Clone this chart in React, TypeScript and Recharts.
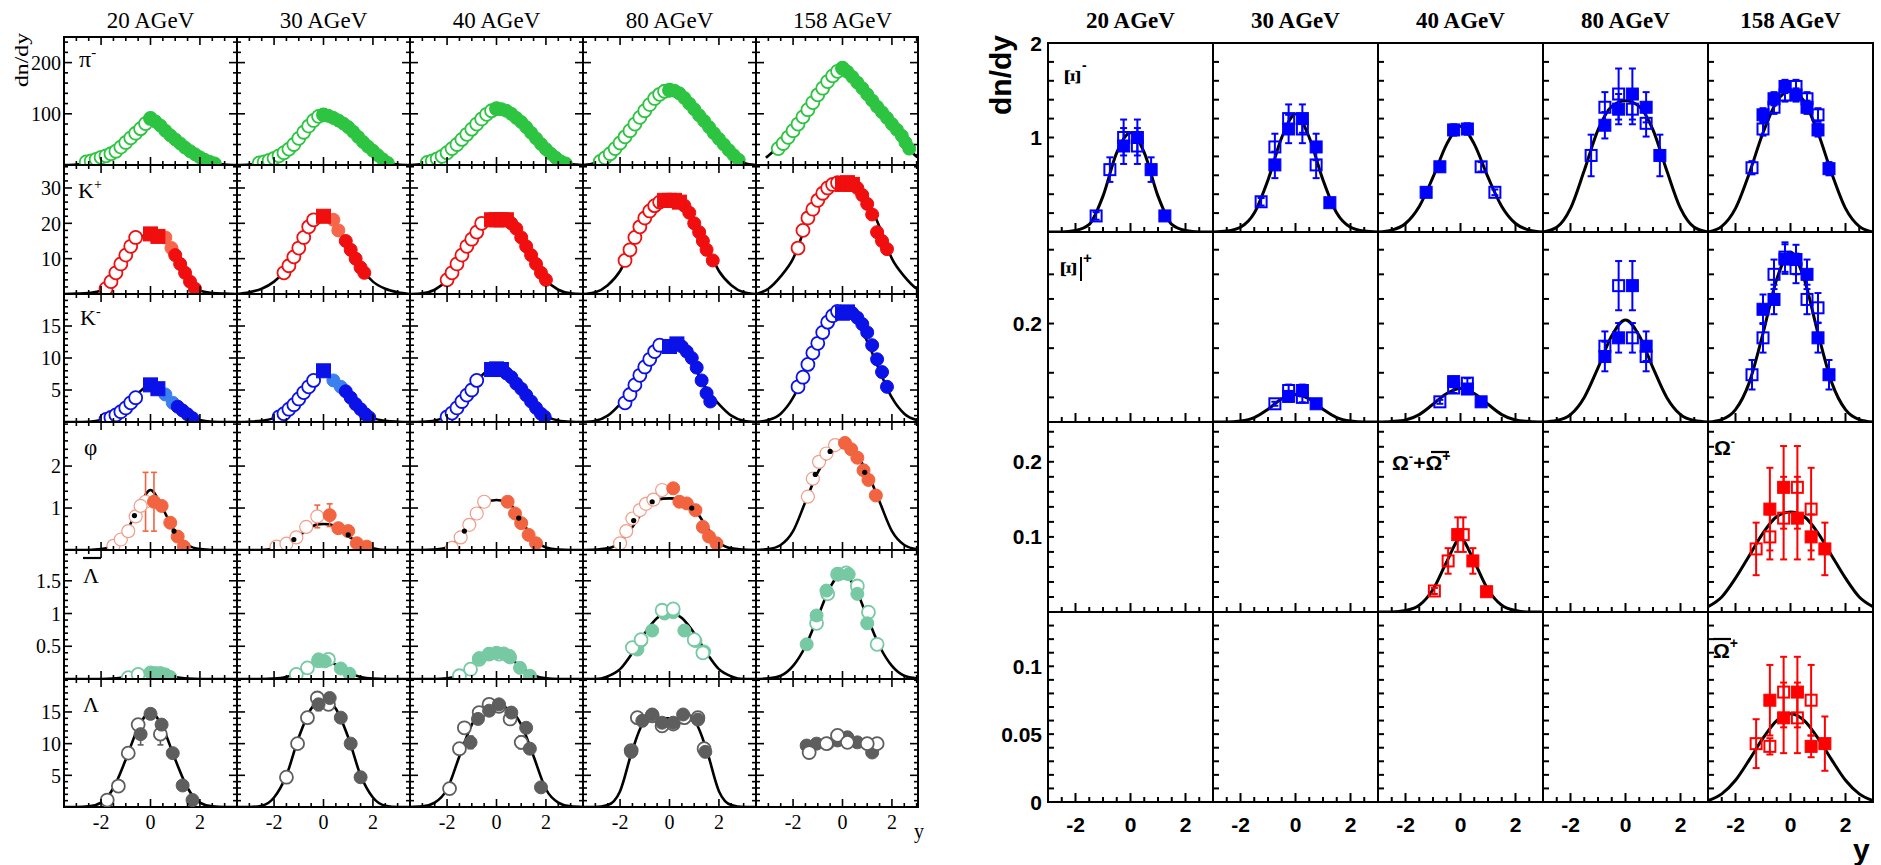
import React from 'react';
import { ComposedChart, Scatter, Line, XAxis, YAxis, ReferenceArea, ErrorBar } from 'recharts';

type Pt = number[];

const SERIF = '"Liberation Serif", "Times New Roman", serif';
const SANS = '"Liberation Sans", Arial, Helvetica, sans-serif';

const ENERGIES = ['20 AGeV', '30 AGeV', '40 AGeV', '80 AGeV', '158 AGeV'];

// ---------- left block: pi-, K+, K-, phi, anti-Lambda, Lambda ----------
const PI20_O = [[-2.6, 6], [-2.4, 8], [-2.2, 11], [-2, 15], [-1.8, 18], [-1.6, 22], [-1.4, 27], [-1.2, 35], [-1, 44], [-0.8, 53], [-0.6, 62], [-0.4, 71], [-0.2, 81], [0, 91]];
const PI20_F = [[0, 91], [0.2, 85], [0.4, 77], [0.6, 67], [0.8, 58], [1, 50], [1.2, 42], [1.4, 34], [1.6, 27], [1.8, 21], [2, 15], [2.2, 10], [2.4, 6], [2.6, 3]];
const PI20_C = [[-3.5, 0], [-3, 1], [-2.5, 6], [-2, 15], [-1.5, 30], [-1, 47], [-0.5, 72], [0, 91], [0.5, 72], [1, 50], [1.5, 30], [2, 15], [2.5, 5], [3, 1], [3.5, 0]];

const PI30_O = [[-2.6, 4], [-2.4, 6], [-2.2, 9], [-2, 13], [-1.8, 18], [-1.6, 24], [-1.4, 31], [-1.2, 40], [-1, 52], [-0.8, 64], [-0.6, 76], [-0.4, 87], [-0.2, 95], [0, 98]];
const PI30_F = [[0, 98], [0.2, 96], [0.4, 92], [0.6, 87], [0.8, 81], [1, 74], [1.2, 65], [1.4, 55], [1.6, 45], [1.8, 36], [2, 28], [2.2, 19], [2.4, 11], [2.6, 4]];
const PI30_C = [[-3.5, 0], [-3, 1], [-2.5, 6], [-2, 18], [-1.5, 38], [-1, 62], [-0.5, 87], [0, 98], [0.5, 89], [1, 70], [1.5, 47], [2, 24], [2.5, 6], [3, 1], [3.5, 0]];

const PI40_O = [[-2.8, 5], [-2.6, 8], [-2.4, 12], [-2.2, 17], [-2, 24], [-1.8, 32], [-1.6, 40], [-1.4, 50], [-1.2, 60], [-1, 70], [-0.8, 80], [-0.6, 90], [-0.4, 99], [-0.2, 106], [0, 110]];
const PI40_F = [[0, 110], [0.2, 109], [0.4, 106], [0.6, 100], [0.8, 92], [1, 84], [1.2, 74], [1.4, 63], [1.6, 52], [1.8, 41], [2, 31], [2.2, 22], [2.4, 14], [2.6, 7], [2.8, 3]];
const PI40_C = [[-3.5, 0], [-3, 2], [-2.5, 10], [-2, 26], [-1.5, 47], [-1, 72], [-0.5, 96], [0, 110], [0.5, 103], [1, 84], [1.5, 57], [2, 31], [2.5, 10], [3, 2], [3.5, 0]];

const PI80_O = [[-2.8, 7], [-2.6, 14], [-2.4, 22], [-2.2, 32], [-2, 43], [-1.8, 55], [-1.6, 67], [-1.4, 80], [-1.2, 93], [-1, 106], [-0.8, 118], [-0.6, 130], [-0.4, 138], [-0.2, 144], [0, 146]];
const PI80_F = [[0, 146], [0.2, 145], [0.4, 140], [0.6, 131], [0.8, 120], [1, 109], [1.2, 97], [1.4, 86], [1.6, 74], [1.8, 62], [2, 51], [2.2, 40], [2.4, 29], [2.6, 19], [2.8, 10]];
const PI80_C = [[-3.5, 0], [-3, 4], [-2.5, 18], [-2, 45], [-1.5, 76], [-1, 106], [-0.5, 135], [0, 146], [0.5, 136], [1, 109], [1.5, 80], [2, 51], [2.5, 24], [3, 4], [3.5, 0]];

const PI158_O = [[-2.6, 32], [-2.4, 42], [-2.2, 54], [-2, 67], [-1.8, 80], [-1.6, 94], [-1.4, 108], [-1.2, 122], [-1, 137], [-0.8, 150], [-0.6, 163], [-0.4, 174], [-0.2, 183], [0, 189]];
const PI158_F = [[0, 189], [0.2, 182], [0.4, 172], [0.6, 161], [0.8, 150], [1, 138], [1.2, 126], [1.4, 114], [1.6, 103], [1.8, 92], [2, 80], [2.2, 69], [2.4, 57], [2.55, 44], [2.7, 32]];
const PI158_C = [[-3.1, 14], [-3, 18], [-2.5, 40], [-2, 67], [-1.5, 101], [-1, 137], [-0.5, 170], [0, 189], [0.5, 167], [1, 138], [1.5, 108], [2, 80], [2.5, 48], [3, 16], [3.1, 13]];

const KP20_O = [[-1.8, 1.5], [-1.6, 3.5], [-1.4, 6], [-1.2, 8.5], [-1, 11], [-0.8, 13.5], [-0.6, 16]];
const KP20_S = [[0, 17], [0.3, 16.3]];
const KP20_L = [[0.6, 16], [0.85, 13]];
const KP20_F = [[1, 11], [1.2, 8.5], [1.4, 6], [1.6, 3.5], [1.8, 1.5]];
const KP20_C = [[-3.5, 0], [-3, 0.1], [-2.5, 0.3], [-2, 0.9], [-1.5, 4.5], [-1, 11], [-0.5, 15.5], [0, 17], [0.5, 15.5], [1, 11], [1.5, 4.5], [2, 0.9], [2.5, 0.3], [3, 0.1], [3.5, 0]];

const KP30_O = [[-1.6, 6], [-1.4, 8], [-1.2, 10.5], [-1, 13], [-0.8, 16], [-0.6, 19], [-0.4, 21]];
const KP30_S = [[0, 22]];
const KP30_L = [[0.4, 21], [0.6, 18]];
const KP30_F = [[0.9, 15], [1.1, 12.5], [1.3, 10], [1.5, 7.5], [1.65, 6]];
const KP30_C = [[-3.5, 0], [-3, 0.5], [-2.5, 1.5], [-2, 3.5], [-1.5, 7], [-1, 13], [-0.5, 19.5], [0, 22], [0.5, 19.5], [1, 13.5], [1.5, 7.5], [2, 3.5], [2.5, 1.5], [3, 0.5], [3.5, 0]];

const KP40_O = [[-2, 4], [-1.8, 6], [-1.6, 8.5], [-1.4, 11], [-1.2, 13.5], [-1, 15.5], [-0.8, 17.5], [-0.6, 20]];
const KP40_S = [[-0.2, 21], [0, 21], [0.2, 21], [0.4, 21]];
const KP40_F = [[0.6, 20], [0.8, 18.5], [1, 16], [1.2, 13.5], [1.4, 11], [1.6, 8.5], [1.8, 6], [2, 4]];
const KP40_C = [[-3.5, 0], [-3, 0.2], [-2.5, 1.2], [-2, 4], [-1.5, 9.5], [-1, 15.5], [-0.5, 20], [0, 21], [0.5, 20], [1, 15.5], [1.5, 9.5], [2, 4], [2.5, 1.2], [3, 0.2], [3.5, 0]];

const KP80_O = [[-1.8, 9.5], [-1.6, 12.5], [-1.4, 16], [-1.2, 19], [-1, 21.5], [-0.8, 23.5], [-0.6, 25], [-0.4, 26]];
const KP80_S = [[-0.2, 26.5], [0, 26.5], [0.2, 26.5], [0.4, 26]];
const KP80_F = [[0.6, 25], [0.8, 23], [1, 20], [1.2, 17.5], [1.35, 15], [1.5, 12.5], [1.75, 9.5]];
const KP80_C = [[-3.5, 0], [-3, 0.5], [-2.5, 2.5], [-2, 6.5], [-1.5, 14], [-1, 21], [-0.5, 25.5], [0, 26.5], [0.5, 25.5], [1, 21], [1.5, 14], [2, 6.5], [2.5, 2.5], [3, 0.5], [3.5, 0]];

const KP158_O = [[-1.8, 13], [-1.6, 18], [-1.4, 21.5], [-1.2, 24], [-1, 26.5], [-0.8, 28.5], [-0.6, 30], [-0.4, 31], [-0.2, 31.5]];
const KP158_S = [[0, 31], [0.2, 31.5], [0.4, 31]];
const KP158_F = [[0.6, 30], [0.8, 28], [1, 25.5], [1.2, 22.5], [1.4, 17.5], [1.6, 15], [1.8, 12.7]];
const KP158_C = [[-3.5, 0], [-3, 1.5], [-2.5, 5], [-2, 10], [-1.5, 19], [-1, 26.5], [-0.5, 30.5], [0, 31.5], [0.5, 30.5], [1, 26.5], [1.5, 19], [2, 10], [2.5, 5], [3, 1.5], [3.5, 0]];

const KM20_O = [[-1.8, 0.4], [-1.6, 0.7], [-1.4, 1.1], [-1.2, 1.6], [-1, 2.2], [-0.8, 3], [-0.6, 3.8]];
const KM20_S = [[0, 5.8], [0.3, 5.2]];
const KM20_L = [[0.6, 4.3], [0.9, 3]];
const KM20_F = [[1.1, 2.4], [1.3, 1.8], [1.5, 1.2], [1.7, 0.6]];
const KM20_C = [[-3.5, 0], [-3, 0], [-2.5, 0.05], [-2, 0.3], [-1.5, 1], [-1, 2.4], [-0.5, 4.5], [0, 5.8], [0.5, 4.6], [1, 2.7], [1.5, 1.1], [2, 0.3], [2.5, 0.05], [3, 0], [3.5, 0]];

const KM30_O = [[-1.8, 0.8], [-1.6, 1.3], [-1.4, 2], [-1.2, 2.7], [-1, 3.6], [-0.8, 4.6], [-0.6, 5.5], [-0.4, 6.5]];
const KM30_S = [[0, 8]];
const KM30_L = [[0.4, 6.5], [0.7, 5.5]];
const KM30_F = [[0.9, 4.8], [1.1, 3.8], [1.3, 2.8], [1.5, 2], [1.7, 1.2], [1.85, 0.7]];
const KM30_C = [[-3.5, 0], [-3, 0.05], [-2.5, 0.2], [-2, 0.6], [-1.5, 1.7], [-1, 3.6], [-0.5, 6.2], [0, 8], [0.5, 6.2], [1, 4.2], [1.5, 2], [2, 0.6], [2.5, 0.2], [3, 0.05], [3.5, 0]];

const KM40_O = [[-2, 0.8], [-1.8, 1.4], [-1.6, 2.2], [-1.4, 3.2], [-1.2, 4.2], [-1, 5], [-0.8, 6.5]];
const KM40_S = [[-0.2, 8.2], [0, 8.3], [0.2, 8.2]];
const KM40_F = [[0.4, 7.6], [0.6, 7], [0.8, 6], [1, 5.2], [1.2, 4.2], [1.4, 3.2], [1.6, 2.2], [1.8, 1.3], [1.95, 0.8]];
const KM40_C = [[-3.5, 0], [-3, 0.05], [-2.5, 0.25], [-2, 0.9], [-1.5, 2.7], [-1, 5.2], [-0.5, 7.6], [0, 8.3], [0.5, 7.6], [1, 5.2], [1.5, 2.7], [2, 0.9], [2.5, 0.25], [3, 0.05], [3.5, 0]];

const KM80_O = [[-1.8, 3], [-1.6, 4.3], [-1.4, 5.8], [-1.2, 7.3], [-1, 8.6], [-0.8, 9.8], [-0.6, 11], [-0.4, 12]];
const KM80_S = [[0, 11.8], [0.3, 12.2]];
const KM80_F = [[0.5, 11.8], [0.7, 11], [0.9, 10], [1.1, 8.5], [1.3, 6.5], [1.5, 4.5], [1.65, 3.2]];
const KM80_C = [[-3.5, 0], [-3, 0.2], [-2.5, 1], [-2, 2.8], [-1.5, 5.2], [-1, 8.6], [-0.5, 11.3], [0, 12], [0.5, 11.3], [1, 8.6], [1.5, 5.2], [2, 2.8], [2.5, 1], [3, 0.2], [3.5, 0]];

const KM158_O = [[-1.8, 5.5], [-1.6, 7], [-1.4, 9], [-1.2, 10.8], [-1, 12.3], [-0.8, 14], [-0.6, 15.6], [-0.4, 16.6], [-0.2, 17.3]];
const KM158_S = [[0, 17], [0.2, 17.2]];
const KM158_F = [[0.4, 17], [0.6, 16.3], [0.8, 15.3], [1, 14], [1.2, 12], [1.4, 9.8], [1.6, 7.8], [1.8, 5.5]];
const KM158_C = [[-3.5, 0], [-3, 0.3], [-2.5, 1.3], [-2, 3.8], [-1.5, 8], [-1, 12.6], [-0.5, 16.2], [0, 17.3], [0.5, 16.2], [1, 12.6], [1.5, 8], [2, 3.8], [2.5, 1.3], [3, 0.3], [3.5, 0]];

const PHI20_O = [[-1.5, 0.1], [-1.2, 0.25], [-0.9, 0.45], [-0.6, 0.8], [-0.4, 1.05], [-0.2, 1.15, 0.7]];
const PHI20_F = [[0.14, 1.15, 0.7], [0.45, 1.05], [0.8, 0.65], [1.1, 0.32], [1.35, 0.08]];
const PHI20_D = [[-0.65, 0.82], [0.95, 0.45]];
const PHI20_C = [[-3.5, 0], [-2.5, 0], [-2, 0.02], [-1.5, 0.12], [-1, 0.42], [-0.5, 0.98], [0, 1.43], [0.5, 0.98], [1, 0.42], [1.5, 0.12], [2, 0.02], [2.5, 0], [3.5, 0]];

const PHI30_O = [[-1.9, 0.08], [-1.5, 0.15], [-1.1, 0.3], [-0.7, 0.55], [-0.25, 0.8, 0.27]];
const PHI30_F = [[0.25, 0.83, 0.27], [0.6, 0.52], [1, 0.45], [1.35, 0.16], [1.75, 0.08]];
const PHI30_D = [[-1.2, 0.25], [1, 0.36]];
const PHI30_C = [[-3.5, 0], [-2.5, 0], [-2, 0.04], [-1.5, 0.15], [-1, 0.33], [-0.5, 0.55], [-0.25, 0.61], [0, 0.62], [0.25, 0.61], [0.5, 0.55], [1, 0.33], [1.5, 0.15], [2, 0.04], [2.5, 0], [3.5, 0]];

const PHI40_O = [[-1.8, 0.05], [-1.45, 0.3], [-1.1, 0.6], [-0.8, 0.87], [-0.5, 1.15]];
const PHI40_F = [[0.45, 1.15], [0.75, 0.87], [1, 0.64], [1.3, 0.36], [1.6, 0.16]];
const PHI40_D = [[-1.3, 0.45], [0.9, 0.76]];
const PHI40_C = [[-3.5, 0], [-3, 0], [-2.5, 0.01], [-2, 0.06], [-1.5, 0.28], [-1, 0.7], [-0.5, 1.12], [0, 1.19], [0.5, 1.12], [1, 0.7], [1.5, 0.28], [2, 0.06], [2.5, 0.01], [3, 0], [3.5, 0]];

const PHI80_O = [[-2, 0.16], [-1.75, 0.45], [-1.5, 0.75], [-1.2, 0.95], [-0.95, 1.1], [-0.65, 1.2], [-0.3, 1.43]];
const PHI80_F = [[0.15, 1.47], [0.4, 1.15], [0.7, 1.11], [1.05, 0.95], [1.35, 0.55], [1.6, 0.32], [1.9, 0.16]];
const PHI80_D = [[-1.45, 0.7], [-0.7, 1.15], [0.9, 1.0]];
const PHI80_C = [[-3.5, 0], [-3, 0.01], [-2.5, 0.04], [-2, 0.18], [-1.5, 0.55], [-1, 0.98], [-0.5, 1.2], [0, 1.23], [0.5, 1.2], [1, 0.98], [1.5, 0.55], [2, 0.18], [2.5, 0.04], [3, 0.01], [3.5, 0]];

const PHI158_O = [[-1.4, 1.27, 0.12], [-1.2, 1.7], [-0.95, 2.1], [-0.65, 2.3], [-0.3, 2.5]];
const PHI158_F = [[0.1, 2.55, 0.12], [0.35, 2.4], [0.6, 2.2], [0.85, 1.9], [1.05, 1.67], [1.35, 1.3, 0.12]];
const PHI158_D = [[-1.1, 1.8], [-0.5, 2.35], [0.9, 1.85]];
const PHI158_C = [[-3.5, 0], [-3, 0.02], [-2.5, 0.12], [-2, 0.45], [-1.5, 1.15], [-1, 1.85], [-0.5, 2.3], [0, 2.45], [0.5, 2.3], [1, 1.85], [1.5, 1.15], [2, 0.45], [2.5, 0.12], [3, 0.02], [3.5, 0]];

const LB20_O = [[-0.9, 0.02], [-0.5, 0.07]];
const LB20_F = [[0, 0.1], [0.2, 0.09], [0.4, 0.09], [0.6, 0.07], [0.8, 0.03]];
const LB20_C = [[-3.5, 0], [-2, 0], [-1.5, 0.005], [-1, 0.03], [-0.5, 0.075], [0, 0.1], [0.5, 0.075], [1, 0.03], [1.5, 0.005], [2, 0], [3.5, 0]];

const LB30_O = [[-1.1, 0.07], [-0.65, 0.17], [-0.2, 0.28], [0.2, 0.3]];
const LB30_F = [[-0.2, 0.3], [0.05, 0.27], [0.7, 0.16], [1.05, 0.08]];
const LB30_C = [[-3.5, 0], [-2.5, 0], [-2, 0.005], [-1.5, 0.03], [-1, 0.1], [-0.5, 0.22], [0, 0.28], [0.5, 0.22], [1, 0.1], [1.5, 0.03], [2, 0.005], [2.5, 0], [3.5, 0]];

const LB40_O = [[-1.5, 0.05], [-1.05, 0.15], [-0.7, 0.3], [-0.3, 0.38], [0.1, 0.38], [0.5, 0.35]];
const LB40_F = [[-0.7, 0.32], [-0.3, 0.38], [0, 0.4], [0.3, 0.39], [0.55, 0.33], [0.95, 0.17], [1.35, 0.05]];
const LB40_C = [[-3.5, 0], [-2.5, 0], [-2, 0.01], [-1.5, 0.06], [-1, 0.18], [-0.5, 0.33], [0, 0.39], [0.5, 0.33], [1, 0.18], [1.5, 0.06], [2, 0.01], [2.5, 0], [3.5, 0]];

const LB80_O = [[-1.5, 0.48, 0.05], [-1.15, 0.6, 0.05], [-0.3, 1.05, 0.05], [0.15, 1.07, 0.05], [1, 0.6, 0.05], [1.35, 0.4, 0.05]];
const LB80_F = [[-1.3, 0.45], [-1.15, 0.58], [-0.7, 0.74], [-0.2, 1], [0.15, 1.02], [0.6, 0.74], [1.05, 0.58], [1.4, 0.42]];
const LB80_C = [[-3.5, 0], [-3, 0], [-2.5, 0.04], [-2, 0.15], [-1.5, 0.4], [-1, 0.7], [-0.5, 0.93], [0, 1.02], [0.5, 0.93], [1, 0.7], [1.5, 0.4], [2, 0.15], [2.5, 0.04], [3, 0], [3.5, 0]];

const LB158_O = [[-1.05, 0.85], [-0.6, 1.3], [-0.2, 1.6, 0.07], [0.15, 1.62, 0.07], [0.6, 1.42], [1.05, 1.02], [1.4, 0.53]];
const LB158_F = [[-1.45, 0.53], [-1.05, 0.97], [-0.65, 1.35], [-0.15, 1.6, 0.07], [0.25, 1.6, 0.07], [0.6, 1.3], [1, 0.85]];
const LB158_C = [[-3.5, 0], [-3, 0.01], [-2.5, 0.05], [-2, 0.2], [-1.5, 0.5], [-1, 0.95], [-0.5, 1.4], [0, 1.62], [0.5, 1.4], [1, 0.95], [1.5, 0.5], [2, 0.2], [2.5, 0.05], [3, 0.01], [3.5, 0]];

const LA20_O = [[-1.75, 1.1], [-1.3, 3.3], [-0.9, 8.5], [-0.5, 13], [0.4, 11.5, 1.7]];
const LA20_F = [[-0.4, 11.5, 1.7], [0, 14.7], [0.45, 13], [0.9, 8.5], [1.3, 3.4], [1.7, 1.1]];
const LA20_C = [[-3.5, 0], [-3, 0], [-2.5, 0.1], [-2, 0.7], [-1.5, 3], [-1, 7.5], [-0.5, 12.5], [0, 15], [0.5, 12.5], [1, 7.5], [1.5, 3], [2, 0.7], [2.5, 0.1], [3, 0], [3.5, 0]];

const LA30_O = [[-1.5, 4.7], [-1.05, 10], [-0.65, 14.1], [-0.25, 17.2, 0.8], [0.2, 16.2]];
const LA30_F = [[-0.2, 16.2, 1], [0.25, 17.2, 0.8], [0.7, 14.1], [1.1, 10], [1.5, 4.7]];
const LA30_C = [[-3.5, 0], [-3, 0], [-2.5, 0.2], [-2, 1.5], [-1.5, 5], [-1, 11], [-0.5, 15.5], [0, 17], [0.5, 15.5], [1, 11], [1.5, 5], [2, 1.5], [2.5, 0.2], [3, 0], [3.5, 0]];

const LA40_O = [[-1.9, 2.9], [-1.5, 9.2], [-1.3, 12.5], [-0.7, 14.9], [-0.3, 16.2], [0.1, 15.9], [0.55, 13.9], [1, 10.2, 1]];
const LA40_F = [[-1.05, 10.2, 1], [-0.75, 13.9], [-0.3, 15.2], [0.1, 16.2], [0.6, 14.9], [1.2, 12.5], [1.35, 9.2], [1.8, 3.1]];
const LA40_C = [[-3.5, 0], [-3, 0.1], [-2.5, 0.7], [-2, 2.8], [-1.5, 8], [-1, 13], [-0.5, 15.5], [0, 16], [0.5, 15.5], [1, 13], [1.5, 8], [2, 2.8], [2.5, 0.7], [3, 0.1], [3.5, 0]];

const LA80_O = [[-1.55, 8.9], [-1.3, 14.1], [-0.7, 14.4], [-0.3, 12.8], [0.15, 13.1], [0.6, 14.1], [1.15, 14.1], [1.4, 9.2]];
const LA80_F = [[-1.55, 8.7], [-1.1, 13.6], [-0.7, 14.6], [-0.3, 13.3], [0.15, 13.3], [0.55, 14.6], [1.15, 13.8], [1.45, 8.7]];
const LA80_C = [[-3.5, 0], [-3, 0], [-2.5, 0.3], [-2, 2.5], [-1.5, 9], [-1, 13.5], [-0.5, 14], [0, 14], [0.5, 14], [1, 13.5], [1.5, 9], [2, 2.5], [2.5, 0.3], [3, 0], [3.5, 0]];

const LA158_O = [[-1.35, 8.6, 0.8], [-0.65, 10], [-0.2, 11.3, 0.8], [0.2, 10.2], [1, 10], [1.4, 10, 0.8]];
const LA158_F = [[-1.45, 9.7], [-1.05, 10], [-0.6, 10], [-0.2, 10.5], [0.2, 11, 0.8], [0.6, 10.2], [1.2, 8.6]];

// ---------- right block: Xi-, anti-Xi+, Omega-, anti-Omega+ ----------
const XM20_O = [[-1.25, 0.17, 0.04], [-0.75, 0.66, 0.13], [-0.25, 1.0, 0.19], [0.25, 0.91, 0.19]];
const XM20_F = [[-0.25, 0.91, 0.19], [0.25, 1.0, 0.19], [0.75, 0.66, 0.13], [1.25, 0.17, 0.03]];
const XM20_C = [[-3, 0], [-2.5, 0], [-2, 0.015], [-1.5, 0.08], [-1, 0.38], [-0.5, 0.84], [0, 1.05], [0.5, 0.84], [1, 0.38], [1.5, 0.08], [2, 0.015], [2.5, 0], [3, 0]];

const XM30_O = [[-1.25, 0.32, 0.04], [-0.75, 0.9, 0.14], [-0.25, 1.2, 0.15], [0.25, 1.09, 0.15], [0.75, 0.71, 0.14]];
const XM30_F = [[-0.75, 0.71, 0.14], [-0.25, 1.09, 0.15], [0.25, 1.2, 0.15], [0.75, 0.9, 0.14], [1.25, 0.31, 0.04]];
const XM30_C = [[-3, 0], [-2.5, 0.01], [-2, 0.05], [-1.5, 0.2], [-1, 0.55], [-0.5, 1.0], [0, 1.25], [0.5, 1.0], [1, 0.55], [1.5, 0.2], [2, 0.05], [2.5, 0.01], [3, 0]];

const XM40_O = [[0.75, 0.69, 0.05], [1.25, 0.42, 0.03]];
const XM40_F = [[-1.25, 0.42, 0.03], [-0.75, 0.69, 0.05], [-0.25, 1.08, 0.06], [0.25, 1.09, 0.06]];
const XM40_C = [[-3, 0], [-2.5, 0.02], [-2, 0.09], [-1.5, 0.27], [-1, 0.58], [-0.5, 0.93], [0, 1.12], [0.5, 0.93], [1, 0.58], [1.5, 0.27], [2, 0.09], [2.5, 0.02], [3, 0]];

const XM80_O = [[-1.25, 0.81, 0.22], [-0.75, 1.32, 0.16], [-0.25, 1.46, 0.27], [0.25, 1.3, 0.16], [0.75, 1.15, 0.14]];
const XM80_F = [[-0.75, 1.13, 0.14], [-0.25, 1.3, 0.16], [0.25, 1.46, 0.27], [0.75, 1.32, 0.16], [1.25, 0.81, 0.22]];
const XM80_C = [[-3, 0], [-2.5, 0.05], [-2, 0.25], [-1.5, 0.65], [-1, 1.08], [-0.5, 1.33], [0, 1.39], [0.5, 1.33], [1, 1.08], [1.5, 0.65], [2, 0.25], [2.5, 0.05], [3, 0]];

const XM158_O = [[-1.4, 0.68, 0.07], [-1, 1.09, 0.07], [-0.6, 1.32, 0.07], [-0.2, 1.45, 0.07], [0.2, 1.54, 0.07], [0.6, 1.41, 0.07], [1, 1.24, 0.07]];
const XM158_F = [[-1, 1.24, 0.07], [-0.6, 1.41, 0.07], [-0.2, 1.54, 0.07], [0.2, 1.45, 0.07], [0.6, 1.32, 0.07], [1, 1.08, 0.07], [1.4, 0.67, 0.07]];
const XM158_C = [[-3, 0], [-2.5, 0.06], [-2, 0.25], [-1.5, 0.62], [-1, 1.05], [-0.5, 1.38], [0, 1.5], [0.5, 1.38], [1, 1.05], [1.5, 0.62], [2, 0.25], [2.5, 0.06], [3, 0]];

const XP30_O = [[-0.75, 0.037, 0.004], [-0.25, 0.064, 0.012], [0.25, 0.05, 0.01]];
const XP30_F = [[-0.25, 0.052, 0.01], [0.25, 0.064, 0.012], [0.75, 0.037, 0.004]];
const XP30_C = [[-3, 0], [-2.5, 0], [-2, 0.002], [-1.5, 0.009], [-1, 0.026], [-0.5, 0.047], [0, 0.056], [0.5, 0.047], [1, 0.026], [1.5, 0.009], [2, 0.002], [2.5, 0], [3, 0]];

const XP40_O = [[-0.75, 0.041, 0.004], [-0.25, 0.069, 0.01], [0.25, 0.079, 0.01]];
const XP40_F = [[-0.25, 0.082, 0.01], [0.25, 0.067, 0.01], [0.75, 0.041, 0.004]];
const XP40_C = [[-3, 0], [-2.5, 0.001], [-2, 0.004], [-1.5, 0.015], [-1, 0.036], [-0.5, 0.058], [0, 0.068], [0.5, 0.058], [1, 0.036], [1.5, 0.015], [2, 0.004], [2.5, 0.001], [3, 0]];

const XP80_O = [[-0.75, 0.154, 0.03], [-0.25, 0.277, 0.05], [0.25, 0.171, 0.03], [0.75, 0.133, 0.03]];
const XP80_F = [[-0.75, 0.133, 0.03], [-0.25, 0.171, 0.03], [0.25, 0.277, 0.05], [0.75, 0.154, 0.03]];
const XP80_C = [[-3, 0], [-2.5, 0.003], [-2, 0.015], [-1.5, 0.05], [-1, 0.11], [-0.5, 0.175], [0, 0.207], [0.5, 0.175], [1, 0.11], [1.5, 0.05], [2, 0.015], [2.5, 0.003], [3, 0]];

const XP158_O = [[-1.4, 0.096, 0.03], [-1, 0.171, 0.03], [-0.6, 0.3, 0.03], [-0.2, 0.335, 0.03], [0.2, 0.312, 0.03], [0.6, 0.249, 0.03], [1, 0.232, 0.03]];
const XP158_F = [[-1, 0.229, 0.03], [-0.6, 0.249, 0.03], [-0.2, 0.331, 0.03], [0.2, 0.33, 0.03], [0.6, 0.3, 0.03], [1, 0.171, 0.03], [1.4, 0.096, 0.03]];
const XP158_C = [[-3, 0], [-2.5, 0.005], [-2, 0.025], [-1.5, 0.08], [-1, 0.18], [-0.5, 0.29], [0, 0.345], [0.5, 0.29], [1, 0.18], [1.5, 0.08], [2, 0.025], [2.5, 0.005], [3, 0]];

const OM40_O = [[-0.95, 0.028, 0.004], [-0.45, 0.068, 0.017], [0.1, 0.103, 0.023]];
const OM40_F = [[-0.1, 0.103, 0.023], [0.45, 0.068, 0.017], [0.95, 0.027, 0.004]];
const OM40_C = [[-3, 0], [-2.5, 0], [-2, 0.002], [-1.5, 0.009], [-1, 0.03], [-0.5, 0.067], [0, 0.098], [0.5, 0.067], [1, 0.03], [1.5, 0.009], [2, 0.002], [2.5, 0], [3, 0]];

const OM158_O = [[-1.25, 0.084, 0.035], [-0.75, 0.1, 0.03], [-0.25, 0.125, 0.055], [0.25, 0.166, 0.055], [0.75, 0.137, 0.055]];
const OM158_F = [[-0.75, 0.137, 0.055], [-0.25, 0.166, 0.055], [0.25, 0.125, 0.055], [0.75, 0.1, 0.03], [1.25, 0.084, 0.035]];
const OM158_C = [[-3, 0.007], [-2.5, 0.02], [-2, 0.045], [-1.5, 0.075], [-1, 0.105], [-0.5, 0.127], [0, 0.133], [0.5, 0.127], [1, 0.105], [1.5, 0.075], [2, 0.045], [2.5, 0.02], [3, 0.007]];

const OP158_O = [[-1.25, 0.043, 0.018], [-0.75, 0.041, 0.006], [-0.25, 0.081, 0.026], [0.25, 0.062, 0.026], [0.75, 0.075, 0.026]];
const OP158_F = [[-0.75, 0.075, 0.026], [-0.25, 0.062, 0.026], [0.25, 0.081, 0.026], [0.75, 0.041, 0.008], [1.25, 0.043, 0.02]];
const OP158_C = [[-3, 0.001], [-2.5, 0.006], [-2, 0.016], [-1.5, 0.031], [-1, 0.047], [-0.5, 0.06], [0, 0.065], [0.5, 0.06], [1, 0.047], [1.5, 0.031], [2, 0.016], [2.5, 0.006], [3, 0.001]];

// ---------- colours ----------
const GREEN = '#2cc441';
const RED = '#f00e0e';
const RED_L = '#f5664b';
const BLUE = '#0b12e8';
const BLUE_L = '#3c80f0';
const PHI_O = '#f19d8a';
const PHI_F = '#f2643f';
const MINT = '#76c9a3';
const GRAY = '#5e5e5e';
const R_BLUE = '#0000ff';
const R_RED = '#ff0000';

// ---------- layout ----------
const LEFT_COLS = [64, 237, 410, 583, 756, 918];
const LEFT_ROWS = [37, 165, 294, 422, 550, 679, 807];
const RIGHT_COLS = [1048, 1213, 1378, 1543, 1708, 1873];
const RIGHT_ROWS = [43, 232, 422, 612, 802];

function range(a: number, b: number, s: number): number[] {
  const out: number[] = [];
  for (let i = 0; a + i * s <= b + 1e-9; i++) out.push(+(a + i * s).toFixed(6));
  return out;
}

type Kind = 'oc' | 'fc' | 'os' | 'fs' | 'dot';
interface Series { pts: Pt[]; kind: Kind; color: string; size: number; sw: number }
interface Cell { curve?: Pt[]; series: Series[] }
interface YCfg { domain: [number, number]; ticks: number[]; labels: number[] }

const oc = (pts: Pt[], color: string, r = 6.5, sw = 1.8): Series => ({ pts, kind: 'oc', color, size: r, sw });
const fc = (pts: Pt[], color: string, r = 6.5): Series => ({ pts, kind: 'fc', color, size: r, sw: 1 });
const fs = (pts: Pt[], color: string, h = 7): Series => ({ pts, kind: 'fs', color, size: h, sw: 1 });
const os = (pts: Pt[], color: string, h = 5.5): Series => ({ pts, kind: 'os', color, size: h, sw: 2 });
const dot = (pts: Pt[]): Series => ({ pts, kind: 'dot', color: '#000', size: 2.6, sw: 0 });
const rs = (o: Pt[], f: Pt[], color: string): Series[] => [os(o, color), fs(f, color, 6)];

const LEFT_Y: YCfg[] = [
  { domain: [0, 250], ticks: range(0, 240, 20), labels: [100, 200] },
  { domain: [0, 36.5], ticks: range(0, 36, 2), labels: [10, 20, 30] },
  { domain: [0, 20], ticks: range(0, 19, 1), labels: [5, 10, 15] },
  { domain: [0, 3.05], ticks: range(0, 3, 0.2), labels: [1, 2] },
  { domain: [0, 1.97], ticks: range(0, 1.9, 0.1), labels: [0.5, 1, 1.5] },
  { domain: [0, 20.2], ticks: range(0, 20, 1), labels: [5, 10, 15] },
];

const RIGHT_Y: YCfg[] = [
  { domain: [0, 2], ticks: range(0, 2, 0.2), labels: [1, 2] },
  { domain: [0, 0.386], ticks: range(0, 0.35, 0.05), labels: [0.2] },
  { domain: [0, 0.253], ticks: range(0, 0.24, 0.02), labels: [0.1, 0.2] },
  { domain: [0, 0.14], ticks: range(0, 0.13, 0.01), labels: [0, 0.05, 0.1] },
];

const kRow = (o: Pt[], s: Pt[], l: Pt[] | null, f: Pt[], c: Pt[], col: string, colL: string): Cell => ({
  curve: c,
  series: [oc(o, col), ...(l ? [fc(l, colL)] : []), fc(f, col), fs(s, col)],
});

const LEFT_CELLS: Cell[][] = [
  [
    { curve: PI20_C, series: [oc(PI20_O, GREEN), fc(PI20_F, GREEN)] },
    { curve: PI30_C, series: [oc(PI30_O, GREEN), fc(PI30_F, GREEN)] },
    { curve: PI40_C, series: [oc(PI40_O, GREEN), fc(PI40_F, GREEN)] },
    { curve: PI80_C, series: [oc(PI80_O, GREEN), fc(PI80_F, GREEN)] },
    { curve: PI158_C, series: [oc(PI158_O, GREEN), fc(PI158_F, GREEN)] },
  ],
  [
    kRow(KP20_O, KP20_S, KP20_L, KP20_F, KP20_C, RED, RED_L),
    kRow(KP30_O, KP30_S, KP30_L, KP30_F, KP30_C, RED, RED_L),
    kRow(KP40_O, KP40_S, null, KP40_F, KP40_C, RED, RED_L),
    kRow(KP80_O, KP80_S, null, KP80_F, KP80_C, RED, RED_L),
    kRow(KP158_O, KP158_S, null, KP158_F, KP158_C, RED, RED_L),
  ],
  [
    kRow(KM20_O, KM20_S, KM20_L, KM20_F, KM20_C, BLUE, BLUE_L),
    kRow(KM30_O, KM30_S, KM30_L, KM30_F, KM30_C, BLUE, BLUE_L),
    kRow(KM40_O, KM40_S, null, KM40_F, KM40_C, BLUE, BLUE_L),
    kRow(KM80_O, KM80_S, null, KM80_F, KM80_C, BLUE, BLUE_L),
    kRow(KM158_O, KM158_S, null, KM158_F, KM158_C, BLUE, BLUE_L),
  ],
  [
    { curve: PHI20_C, series: [oc(PHI20_O, PHI_O, 6.5, 1.2), fc(PHI20_F, PHI_F), dot(PHI20_D)] },
    { curve: PHI30_C, series: [oc(PHI30_O, PHI_O, 6.5, 1.2), fc(PHI30_F, PHI_F), dot(PHI30_D)] },
    { curve: PHI40_C, series: [oc(PHI40_O, PHI_O, 6.5, 1.2), fc(PHI40_F, PHI_F), dot(PHI40_D)] },
    { curve: PHI80_C, series: [oc(PHI80_O, PHI_O, 6.5, 1.2), fc(PHI80_F, PHI_F), dot(PHI80_D)] },
    { curve: PHI158_C, series: [oc(PHI158_O, PHI_O, 6.5, 1.2), fc(PHI158_F, PHI_F), dot(PHI158_D)] },
  ],
  [
    { curve: LB20_C, series: [oc(LB20_O, MINT), fc(LB20_F, MINT)] },
    { curve: LB30_C, series: [oc(LB30_O, MINT), fc(LB30_F, MINT)] },
    { curve: LB40_C, series: [oc(LB40_O, MINT), fc(LB40_F, MINT)] },
    { curve: LB80_C, series: [fc(LB80_F, MINT), oc(LB80_O, MINT)] },
    { curve: LB158_C, series: [oc(LB158_O, MINT), fc(LB158_F, MINT)] },
  ],
  [
    { curve: LA20_C, series: [oc(LA20_O, GRAY), fc(LA20_F, GRAY)] },
    { curve: LA30_C, series: [oc(LA30_O, GRAY), fc(LA30_F, GRAY)] },
    { curve: LA40_C, series: [oc(LA40_O, GRAY), fc(LA40_F, GRAY)] },
    { curve: LA80_C, series: [oc(LA80_O, GRAY), fc(LA80_F, GRAY)] },
    { series: [fc(LA158_F, GRAY), oc(LA158_O, GRAY)] },
  ],
];

const EMPTY: Cell = { series: [] };
const RIGHT_CELLS: Cell[][] = [
  [
    { curve: XM20_C, series: rs(XM20_O, XM20_F, R_BLUE) },
    { curve: XM30_C, series: rs(XM30_O, XM30_F, R_BLUE) },
    { curve: XM40_C, series: rs(XM40_O, XM40_F, R_BLUE) },
    { curve: XM80_C, series: rs(XM80_O, XM80_F, R_BLUE) },
    { curve: XM158_C, series: rs(XM158_O, XM158_F, R_BLUE) },
  ],
  [
    EMPTY,
    { curve: XP30_C, series: rs(XP30_O, XP30_F, R_BLUE) },
    { curve: XP40_C, series: rs(XP40_O, XP40_F, R_BLUE) },
    { curve: XP80_C, series: rs(XP80_O, XP80_F, R_BLUE) },
    { curve: XP158_C, series: rs(XP158_O, XP158_F, R_BLUE) },
  ],
  [
    EMPTY,
    EMPTY,
    { curve: OM40_C, series: rs(OM40_O, OM40_F, R_RED) },
    EMPTY,
    { curve: OM158_C, series: rs(OM158_O, OM158_F, R_RED) },
  ],
  [EMPTY, EMPTY, EMPTY, EMPTY, { curve: OP158_C, series: rs(OP158_O, OP158_F, R_RED) }],
];

// ---------- one framed panel ----------
const PAD = 70;
const YW = 50;
const XH = 40;

function markShape(s: Series) {
  return (p: any) => {
    const cx = p.cx;
    const cy = p.cy;
    if (cx == null || cy == null || isNaN(cx) || isNaN(cy)) return <g />;
    const r = s.size;
    switch (s.kind) {
      case 'oc':
        return <circle cx={cx} cy={cy} r={r} fill="#fff" stroke={s.color} strokeWidth={s.sw} />;
      case 'fc':
        return <circle cx={cx} cy={cy} r={r} fill={s.color} stroke={s.color} strokeWidth={s.sw} />;
      case 'os':
        return <rect x={cx - r} y={cy - r} width={2 * r} height={2 * r} fill="none" stroke={s.color} strokeWidth={s.sw} />;
      case 'fs':
        return <rect x={cx - r} y={cy - r} width={2 * r} height={2 * r} fill={s.color} stroke={s.color} strokeWidth={s.sw} />;
      default:
        return <circle cx={cx} cy={cy} r={r} fill="#000" />;
    }
  };
}

interface PanelProps {
  left: number;
  top: number;
  width: number;
  height: number;
  xd: [number, number];
  y: YCfg;
  cell: Cell;
  showX: boolean;
  showY: boolean;
  theme: 'L' | 'R';
}

function Panel(p: PanelProps) {
  const R = p.theme === 'R';
  const font = R ? SANS : SERIF;
  const weight = R ? 700 : 400;
  const xTicks = R ? range(-2.5, 2.5, 0.5) : range(-3, 3, 0.5);
  const xMajor = [-2, 0, 2];
  const near = (list: number[], v: number) => list.some((m) => Math.abs(m - v) < 1e-6);
  const fmt = (v: number) => String(+v.toFixed(4));
  const tickW = R ? 2 : 1.6;

  const yTick = (t: any) => {
    const { x, y, payload } = t;
    const v = payload.value;
    const lab = near(p.y.labels, v);
    const len = R ? 6 : lab ? 8 : 4;
    return (
      <g>
        <line x1={x} x2={x + len} y1={y} y2={y} stroke="#000" strokeWidth={tickW} />
        {!R && <line x1={x + p.width} x2={x + p.width - len} y1={y} y2={y} stroke="#000" strokeWidth={tickW} />}
        {p.showY && lab && (
          <text x={x - (R ? 6 : 3)} y={y} dy="0.36em" textAnchor="end" fontFamily={font} fontWeight={weight} fontSize={R ? 21 : 20} fill="#000">
            {fmt(v)}
          </text>
        )}
      </g>
    );
  };

  const xTick = (t: any) => {
    const { x, y, payload } = t;
    const v = payload.value;
    const maj = near(xMajor, v);
    const len = R ? (maj ? 9 : 5) : maj ? 8 : 4;
    return (
      <g>
        <line x1={x} x2={x} y1={y} y2={y - len} stroke="#000" strokeWidth={tickW} />
        {!R && <line x1={x} x2={x} y1={y - p.height} y2={y - p.height + len} stroke="#000" strokeWidth={tickW} />}
        {p.showX && maj && (
          <text x={x} y={y + (R ? 30 : 22)} textAnchor="middle" fontFamily={font} fontWeight={weight} fontSize={R ? 21 : 20} fill="#000">
            {fmt(v)}
          </text>
        )}
      </g>
    );
  };

  const scatters: React.ReactNode[] = [];
  p.cell.series.forEach((s, i) => {
    const withE = s.pts.filter((q) => (q[2] ?? 0) > 0);
    const noE = s.pts.filter((q) => !((q[2] ?? 0) > 0));
    const shape = markShape(s);
    const barColor = s.color === PHI_O ? PHI_F : s.color;
    if (withE.length) {
      scatters.push(
        <Scatter key={`e${i}`} data={withE.map((q) => ({ x: q[0], y: q[1], e: q[2] }))} shape={shape} isAnimationActive={false}>
          <ErrorBar dataKey="e" direction="y" width={R ? 3.5 : 3} stroke={barColor} strokeWidth={R ? 2 : 1.6} />
        </Scatter>
      );
    }
    if (noE.length) {
      scatters.push(<Scatter key={`n${i}`} data={noE.map((q) => ({ x: q[0], y: q[1] }))} shape={shape} isAnimationActive={false} />);
    }
  });

  return (
    <div style={{ position: 'absolute', left: p.left - PAD, top: p.top - PAD }}>
      <ComposedChart
        width={p.width + 2 * PAD}
        height={p.height + 2 * PAD}
        margin={{ top: PAD, right: PAD, bottom: PAD - XH, left: PAD - YW }}
      >
        <XAxis
          type="number"
          dataKey="x"
          domain={p.xd}
          allowDataOverflow
          ticks={xTicks}
          interval={0}
          tick={xTick}
          tickLine={false}
          axisLine={false}
          tickSize={0}
          tickMargin={0}
          height={XH}
        />
        <YAxis
          type="number"
          dataKey="y"
          domain={p.y.domain}
          allowDataOverflow
          ticks={p.y.ticks}
          interval={0}
          tick={yTick}
          tickLine={false}
          axisLine={false}
          tickSize={0}
          tickMargin={0}
          width={YW}
        />
        {p.cell.curve && (
          <Line
            data={p.cell.curve.map((q) => ({ x: q[0], y: q[1] }))}
            dataKey="y"
            type="monotone"
            dot={false}
            activeDot={false}
            stroke="#000"
            strokeWidth={R ? 3 : 2.6}
            isAnimationActive={false}
          />
        )}
        {scatters}
        <ReferenceArea x1={p.xd[0]} x2={p.xd[1]} y1={p.y.domain[0]} y2={p.y.domain[1]} fill="none" fillOpacity={0} stroke="#000" strokeWidth={2} />
      </ComposedChart>
    </div>
  );
}

// ---------- labels ----------
function Labels() {
  const sup = (t: string, dy: number, fs: number) => (
    <tspan dy={dy} fontSize={fs}>
      {t}
    </tspan>
  );
  return (
    <svg width={1881} height={865} style={{ position: 'absolute', left: 0, top: 0, pointerEvents: 'none' }}>
      {ENERGIES.map((e, i) => (
        <text key={`lh${i}`} x={LEFT_COLS[i] + 86.5} y={28} textAnchor="middle" fontFamily={SERIF} fontSize={23}>
          {e}
        </text>
      ))}
      {ENERGIES.map((e, i) => (
        <text key={`rh${i}`} x={RIGHT_COLS[i] + 82.5} y={28} textAnchor="middle" fontFamily={SERIF} fontWeight={700} fontSize={23}>
          {e}
        </text>
      ))}

      <text transform="translate(28,60) rotate(-90)" textAnchor="middle" fontFamily={SERIF} fontSize={19} textLength={54} lengthAdjust="spacingAndGlyphs">
        dn/dy
      </text>
      <text x={914} y={838} fontFamily={SERIF} fontSize={20}>
        y
      </text>

      <text x={79} y={67} fontFamily={SERIF} fontSize={24}>
        π{sup('-', -10, 15)}
      </text>
      <text x={78} y={198} fontFamily={SERIF} fontSize={22}>
        K{sup('+', -9, 14)}
      </text>
      <text x={80} y={325} fontFamily={SERIF} fontSize={22}>
        K{sup('-', -9, 14)}
      </text>
      <text x={84} y={455} fontFamily={SERIF} fontSize={23}>
        φ
      </text>
      <line x1={83} x2={101} y1={558} y2={558} stroke="#000" strokeWidth={2.2} />
      <text x={83} y={583} fontFamily={SERIF} fontSize={22}>
        Λ
      </text>
      <text x={83} y={712} fontFamily={SERIF} fontSize={22}>
        Λ
      </text>

      <text transform="translate(1011,75) rotate(-90)" textAnchor="middle" fontFamily={SANS} fontWeight={700} fontSize={30}>
        dn/dy
      </text>
      <text x={1853} y={860} fontFamily={SANS} fontWeight={700} fontSize={30}>
        y
      </text>

      <text transform="translate(1073,77) rotate(90)" textAnchor="middle" dy="0.35em" fontFamily={SERIF} fontWeight={700} fontSize={24}>
        Ξ
      </text>
      <text x={1082} y={70} fontFamily={SANS} fontWeight={700} fontSize={14}>
        -
      </text>
      <text transform="translate(1069,269) rotate(90)" textAnchor="middle" dy="0.35em" fontFamily={SERIF} fontWeight={700} fontSize={24}>
        Ξ
      </text>
      <line x1={1081} x2={1081} y1={257} y2={281} stroke="#000" strokeWidth={2} />
      <text x={1083} y={263} fontFamily={SANS} fontWeight={700} fontSize={15}>
        +
      </text>

      <text x={1392} y={470} fontFamily={SANS} fontWeight={700} fontSize={21}>
        Ω{sup('-', -9, 13)}
        <tspan dy={9} fontSize={21}>
          +Ω
        </tspan>
        {sup('+', -9, 14)}
      </text>
      <line x1={1431} x2={1449} y1={452} y2={452} stroke="#000" strokeWidth={2.2} />

      <text x={1714} y={455} fontFamily={SANS} fontWeight={700} fontSize={21}>
        Ω{sup('-', -9, 13)}
      </text>
      <text x={1713} y={658} fontFamily={SANS} fontWeight={700} fontSize={21}>
        Ω{sup('+', -10, 14)}
      </text>
      <line x1={1713} x2={1731} y1={639} y2={639} stroke="#000" strokeWidth={2.2} />
    </svg>
  );
}

export default function App() {
  const panels: React.ReactNode[] = [];
  for (let r = 0; r < 6; r++) {
    for (let c = 0; c < 5; c++) {
      const w = LEFT_COLS[c + 1] - LEFT_COLS[c];
      panels.push(
        <Panel
          key={`L${r}-${c}`}
          left={LEFT_COLS[c]}
          top={LEFT_ROWS[r]}
          width={w}
          height={LEFT_ROWS[r + 1] - LEFT_ROWS[r]}
          xd={[-3.5, -3.5 + (7 * w) / 173]}
          y={LEFT_Y[r]}
          cell={LEFT_CELLS[r][c]}
          showX={r === 5}
          showY={c === 0}
          theme="L"
        />
      );
    }
  }
  for (let r = 0; r < 4; r++) {
    for (let c = 0; c < 5; c++) {
      panels.push(
        <Panel
          key={`R${r}-${c}`}
          left={RIGHT_COLS[c]}
          top={RIGHT_ROWS[r]}
          width={RIGHT_COLS[c + 1] - RIGHT_COLS[c]}
          height={RIGHT_ROWS[r + 1] - RIGHT_ROWS[r]}
          xd={[-3, 3]}
          y={RIGHT_Y[r]}
          cell={RIGHT_CELLS[r][c]}
          showX={r === 3}
          showY={c === 0}
          theme="R"
        />
      );
    }
  }
  return (
    <div style={{ position: 'absolute', left: 0, top: 0, width: 1881, height: 865, background: '#fff', overflow: 'hidden' }}>
      {panels}
      <Labels />
    </div>
  );
}
